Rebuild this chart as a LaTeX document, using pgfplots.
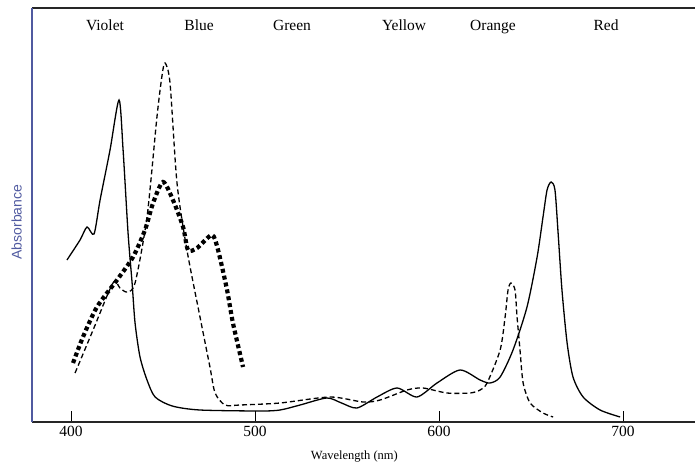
\documentclass[border=0pt]{standalone}
\usepackage{pgfplots}
\pgfplotsset{compat=1.18}
\usepackage{fontspec}
\setmainfont{Liberation Serif}
\newfontfamily\labsans{Liberation Sans}
\definecolor{axblue}{RGB}{80,90,160}
\begin{document}
\begin{tikzpicture}[x=1pt,y=1pt]
\path[use as bounding box] (0,0) rectangle (695,463);
\begin{axis}[
  at={(32pt,41pt)}, anchor=south west,
  scale only axis, width=663pt, height=414pt,
  xmin=378.8, xmax=739.1, ymin=0, ymax=414,
  axis x line*=box, axis y line*=left,
  x axis line style={black!85, line width=1.1pt},
  y axis line style={axblue, line width=1.1pt},
  xtick={400,500,600,700}, ytick=\empty,
  xtick pos=bottom, tick align=inside,
  major tick length=11pt,
  tick style={black, line width=1pt},
  xticklabel style={font=\fontsize{15.5}{16}\selectfont, yshift=-1pt},
  /pgf/number format/assume math mode=true,
  xlabel={Wavelength (nm)},
  xlabel style={at={(axis cs:554,0)}, anchor=center, yshift=-35pt, font=\fontsize{12.5}{13}\selectfont},
  ylabel={Absorbance},
  ylabel style={at={(axis cs:370.4,200)}, anchor=center, font=\labsans\fontsize{14}{14}\selectfont, text=axblue},
  clip=false,
]
% Chlorophyll a (solid)
\addplot[black, line width=1.3pt, smooth, tension=0.45] coordinates {
(397.8,162)(404.9,182)(408.7,195)(412.5,188)(415.8,222)(421.2,272)(426.1,322)
(428.3,272)(431,189)(433.2,139)(434.8,99)(437.5,65)(441.3,42)(445.7,25)(455,16)
(470,12)(502.7,11)(513.6,12)(524.5,17)(539,24)(547,19)(555.4,14)(566.3,25)(577.2,34)
(588,25)(598.9,39)(611.4,52)(622.3,42)(627.7,39)(633.2,45)(640.2,72)(647.8,115)
(653.3,165)(656.5,205)(658.7,232)(660.9,240)(663,232)(664.7,189)(666.8,132)
(669.6,79)(672.8,45)(678.3,25)(687.5,12)(698.4,5)};
% Chlorophyll b (dashed)
\addplot[black, line width=1.3pt, dash pattern=on 5pt off 3pt, smooth, tension=0.45] coordinates {
(402.2,49)(412,92)(422.8,139)(426.6,134)(430.4,130)(434.8,139)(441.3,205)(446.7,305)
(449.5,347)(451.1,359)(453.8,339)(457.6,239)(463,172)(470.1,105)(475.5,55)(478.3,29)
(483.7,17)(491.8,17)(513.6,19)(540.8,25)(558.7,20)(568,22)(582.6,32)(591.3,34)
(604.3,29)(616.8,29)(622.3,32)(626.1,39)(633.2,72)(635.9,105)(637.5,132)(639.1,139)
(641.3,132)(642.4,105)(644,72)(645.7,39)(649.5,19)(656.5,9)(662,5)};
% Carotenoid (dotted)
\addplot[black, line width=4.2pt, dash pattern=on 4pt off 3pt, smooth, tension=0.45] coordinates {
(401.1,59)(406.5,85)(414.1,115)(425,142)(433.7,165)(440.2,192)(444.6,219)(450,240)
(455.4,222)(460.9,195)(463.6,172)(468.5,174)(476.6,187)(479.9,172)(484.8,132)
(488,99)(493.5,55)};
\begin{scope}[every node/.style={font=\fontsize{15.5}{16}\selectfont, anchor=base}]
\node at (axis cs:418.5,391) {Violet};
\node at (axis cs:469.6,391) {Blue};
\node at (axis cs:520.1,391) {Green};
\node at (axis cs:581,391) {Yellow};
\node at (axis cs:629.3,391) {Orange};
\node at (axis cs:690.8,391) {Red};
\end{scope}
\end{axis}
\end{tikzpicture}
\end{document}
